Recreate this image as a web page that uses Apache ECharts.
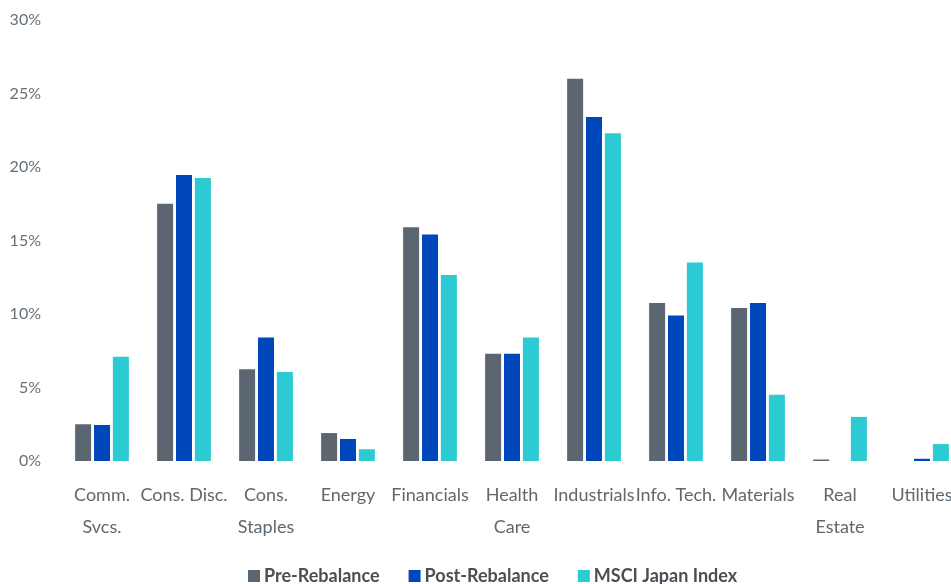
<!DOCTYPE html>
<html><head><meta charset="utf-8">
<script src="https://cdn.jsdelivr.net/npm/echarts@6/dist/echarts.min.js"></script>
<style>html,body{margin:0;padding:0;background:#fff;overflow:hidden}#c{width:975px;height:584px}</style>
</head><body><div id="c"></div>
<script>
var categories = ["Comm.\nSvcs.", "Cons. Disc.", "Cons.\nStaples", "Energy", "Financials", "Health\nCare", "Industrials", "Info. Tech.", "Materials", "Real\nEstate", "Utilities"];
var seriesNames = ["Pre-Rebalance", "Post-Rebalance", "MSCI Japan Index"];
var preRebalance = [2.5, 17.5, 6.25, 1.9, 15.9, 7.3, 26.0, 10.75, 10.4, 0.1, 0];
var postRebalance = [2.45, 19.45, 8.4, 1.5, 15.4, 7.3, 23.4, 9.9, 10.75, 0, 0.15];
var msciJapan = [7.1, 19.25, 6.05, 0.8, 12.65, 8.4, 22.3, 13.5, 4.5, 3.0, 1.15];
var yTicks = [0, 5, 10, 15, 20, 25, 30];
var colors = ["#5b6670", "#0047bb", "#2ccad3"];

var chart = echarts.init(document.getElementById('c'));
var font = 'Lato, "Noto Sans", sans-serif';
var data = [preRebalance, postRebalance, msciJapan];
chart.setOption({
  animation: false,
  textStyle: {fontFamily: font},
  grid: {left: 61, right: 12, top: 20, bottom: 123},
  legend: {
    bottom: -6, left: 243,
    itemWidth: 12, itemHeight: 12, itemGap: 29,
    icon: 'rect',
    textStyle: {fontFamily: font, fontSize: 18, fontWeight: 'bold', color: '#4a4f55', padding: [0, 0, 0, -1]},
    data: seriesNames
  },
  xAxis: {
    type: 'category', data: categories,
    axisLine: {show: false}, axisTick: {show: false},
    axisLabel: {interval: 0, fontFamily: font, fontSize: 18, color: '#5e6870', lineHeight: 32, margin: 18}
  },
  yAxis: {
    type: 'value', min: 0, max: 30, interval: 5,
    splitLine: {show: false}, axisLine: {show: false}, axisTick: {show: false},
    axisLabel: {fontFamily: font, fontSize: 16, color: '#666f77', margin: 20,
      formatter: function (v) { return yTicks.indexOf(v) >= 0 ? v + '%' : ''; }}
  },
  series: seriesNames.map(function (n, i) {
    return {
      name: n, type: 'bar', data: data[i],
      barWidth: 16, barGap: '18%',
      itemStyle: {color: colors[i]}
    };
  })
});
</script></body></html>
